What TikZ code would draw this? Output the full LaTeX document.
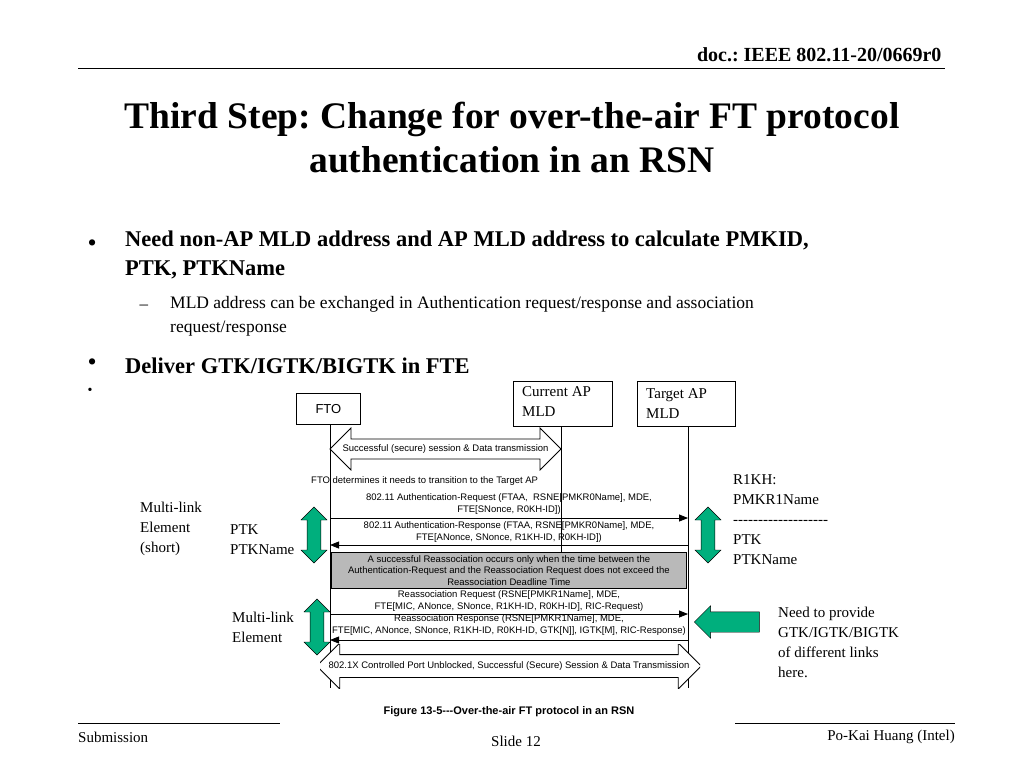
\documentclass[tikz,border=0pt]{standalone}
\usepackage{fontspec}
\setmainfont{Liberation Serif}
\newfontfamily\figfont{Liberation Sans}
\usetikzlibrary{arrows.meta,shapes.arrows}
\definecolor{mintgreen}{RGB}{0,175,125}
\frenchspacing
\begin{document}
\begin{tikzpicture}[x=1pt,y=-1pt,
    actor/.style={rectangle, draw, thick, anchor=north west, inner sep=0pt},
    msg/.style={font=\figfont\fontsize{9.5}{11.5}\selectfont, align=center, inner sep=0pt},
    flow/.style={-{Triangle[length=9pt,width=7pt]}, thick},
    label/.style={font=\fontsize{15}{20}\selectfont, align=left, anchor=north west, inner sep=0pt},
    greenarrow/.style={double arrow, draw=black, fill=mintgreen, minimum height=56pt, minimum width=26pt, double arrow head extend=6pt, inner sep=6.5pt, rotate=90},
    bigarrow/.style={double arrow, draw=black, thick, fill=white, double arrow head extend=11pt, inner xsep=0pt, inner ysep=5pt, double arrow head indent=0pt}
]
    \useasboundingbox (0,0) rectangle (1024,768);

    % Header and title
    \node[anchor=east, font=\bfseries\fontsize{20}{24}\selectfont] (doc) at (945,55) {doc.: IEEE 802.11-20/0669r0};
    \draw (78,68) -- (945,68);
    \node[align=center, font=\bfseries\fontsize{37.5}{44}\selectfont] (title) at (512,138) {Third Step: Change for over-the-air FT protocol\\authentication in an RSN};

    % Bullets
    \node[anchor=west, font=\fontsize{26}{26}\selectfont] (b1) at (84,246) {\textbullet};
    \node[anchor=north west, align=left, font=\bfseries\fontsize{22.5}{29}\selectfont, inner sep=0pt] (t1) at (125,231) {Need non-AP MLD address and AP MLD address to calculate PMKID,\\PTK, PTKName};
    \node[anchor=west, font=\fontsize{17}{22}\selectfont] (d1) at (136,307) {--};
    \node[anchor=north west, align=left, font=\fontsize{17.5}{24}\selectfont, inner sep=0pt] (t2) at (170,296) {MLD address can be exchanged in Authentication request/response and association\\request/response};
    \node[anchor=west, font=\fontsize{26}{26}\selectfont] (b2) at (84,365) {\textbullet};
    \node[anchor=west, font=\bfseries\fontsize{22.5}{24}\selectfont, inner sep=0pt] (t3) at (125,366) {Deliver GTK/IGTK/BIGTK in FTE};
    \node[font=\fontsize{14}{14}\selectfont] (b3) at (90,391) {\textbullet};

    % Actors
    \node[actor, minimum width=64pt, minimum height=31pt, font=\figfont\fontsize{13}{15}\selectfont] (fto) at (296,393) {FTO};
    \node[actor, minimum width=99pt, minimum height=45pt] (cur) at (513,381) {};
    \node[label, anchor=north west] at (522,386) {Current AP\\MLD};
    \node[actor, minimum width=98pt, minimum height=45pt] (tgt) at (637,381) {};
    \node[label, anchor=north west] at (646,388) {Target AP\\MLD};
    \coordinate (ftoend) at (330,688);
    \coordinate (curend) at (561,552);
    \coordinate (tgtend) at (688,688);
    \draw[thick] (fto.south -| ftoend) -- (ftoend);
    \draw[thick] (561,426) -- (curend);
    \draw[thick] (688,426) -- (tgtend);

    % Messages
    \node[bigarrow, minimum width=42pt, minimum height=231pt] (sess) at (445.5,449) {\figfont\fontsize{9.5}{11}\selectfont Successful (secure) session \& Data transmission};
    \node[msg, anchor=west] (det) at (311,481) {FTO determines it needs to transition to the Target AP};
    \node[msg] (areq) at (509,504) {802.11 Authentication-Request (FTAA,\ \ RSNE[PMKR0Name], MDE,\\FTE[SNonce, R0KH-ID])};
    \draw[flow] (330,518) -- (688,518);
    \node[msg] (aresp) at (509,532) {802.11 Authentication-Response (FTAA, RSNE[PMKR0Name], MDE,\\FTE[ANonce, SNonce, R1KH-ID, R0KH-ID])};
    \draw[flow] (688,545) -- (330,545);
    \node[draw, thick, fill=gray!55, minimum width=355pt, minimum height=36pt, inner sep=0pt, anchor=north west] (gray) at (331,552) {};
    \node[msg] at (gray.center) {A successful Reassociation occurs only when the time between the\\Authentication-Request and the Reassociation Request does not exceed the\\Reassociation Deadline Time};
    \node[msg] (rreq) at (509,601) {Reassociation Request (RSNE[PMKR1Name], MDE,\\FTE[MIC, ANonce, SNonce, R1KH-ID, R0KH-ID], RIC-Request)};
    \draw[flow] (330,614) -- (688,614);
    \node[msg] (rresp) at (509,625) {Reassociation Response (RSNE[PMKR1Name], MDE,\\FTE[MIC, ANonce, SNonce, R1KH-ID, R0KH-ID, GTK[N]], IGTK[M], RIC-Response)};
    \draw[flow] (688,640) -- (330,640);
    \begin{scope}
        \clip (320,644) rectangle (700,688);
        \node[bigarrow, minimum width=46pt, minimum height=358pt, inner ysep=6pt] (port) at (509,666) {\figfont\fontsize{9.5}{11}\selectfont 802.1X Controlled Port Unblocked, Successful (Secure) Session \& Data Transmission};
    \end{scope}
    \node[font=\figfont\bfseries\fontsize{11}{13}\selectfont] (cap) at (509,712) {Figure 13-5---Over-the-air FT protocol in an RSN};

    % Side annotations
    \node[greenarrow] (g1) at (314,535) {};
    \node[greenarrow] (g2) at (317,627) {};
    \node[greenarrow] (g3) at (708,535) {};
    \node[single arrow, draw=black, fill=mintgreen, shape border rotate=180, minimum height=65pt, minimum width=32pt, single arrow head extend=6pt, inner sep=10pt] (g4) at (732,622) {};
    \node[label] (ml1) at (140,502) {Multi-link\\Element\\(short)};
    \node[label] (ptk1) at (230,524) {PTK\\PTKName};
    \node[label] (ml2) at (232,612) {Multi-link\\Element};
    \node[label] (r1kh) at (733,474) {R1KH:\\PMKR1Name\\-{}-{}-{}-{}-{}-{}-{}-{}-{}-{}-{}-{}-{}-{}-{}-{}-{}-{}-\\PTK\\PTKName};
    \node[label] (need) at (778,607) {Need to provide\\GTK/IGTK/BIGTK\\of different links\\here.};

    % Footer
    \draw (78,723) -- (280,723);
    \draw (735,723) -- (955,723);
    \node[anchor=west, font=\fontsize{15}{18}\selectfont, inner sep=0pt] (sub) at (78,737) {Submission};
    \node[font=\fontsize{15}{18}\selectfont] (slide) at (516,741) {Slide 12};
    \node[anchor=east, font=\fontsize{15}{18}\selectfont, inner sep=0pt] (auth) at (955,737) {Po-Kai Huang (Intel)};
\end{tikzpicture}
\end{document}
